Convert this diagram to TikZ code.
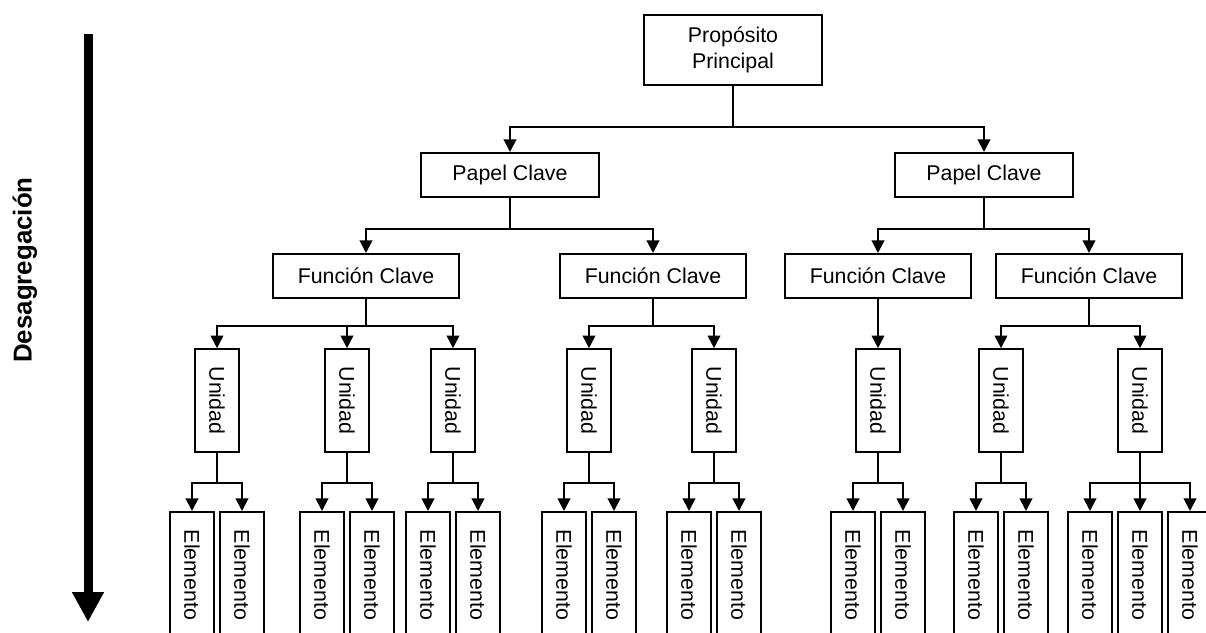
\documentclass[tikz,border=0pt]{standalone}
\usepackage{fontspec}
\setmainfont{Liberation Sans}
\usepackage{graphicx}
\usetikzlibrary{arrows.meta, positioning}
\newcommand{\downtext}[1]{\rotatebox{-90}{#1}}

\begin{document}
\begin{tikzpicture}[
  x=0.75pt, y=-0.75pt,
  box/.style={
    draw,
    line width=1.5pt,
    inner sep=0pt,
    align=center,
    font=\fontsize{16}{20}\selectfont
  },
  role/.style={box, minimum width=133.5pt, minimum height=33pt},
  func/.style={box, minimum width=140pt, minimum height=33pt},
  unit/.style={box, minimum width=33pt, minimum height=77pt},
  elem/.style={box, minimum width=33pt, minimum height=94.5pt},
  arrow/.style={-{Triangle[length=9.5pt, width=9.5pt]}, line width=1.5pt}
]
\useasboundingbox (0,0) rectangle (1206,632);

% disaggregation arrow
\coordinate (dtop) at (88,34);
\coordinate (dbot) at (88,622);
\draw[line width=6.75pt, -{Triangle[length=22.5pt, width=22.5pt]}] (dtop) -- (dbot);
\node[rotate=90, font=\bfseries\fontsize{19.4}{23}\selectfont] (dlabel) at (25,270) {Desagregación};

% upper levels
\node[box, minimum width=133.5pt, minimum height=52.5pt] (prop) at (733,50) {Propósito\\Principal};
\node[role] (pcL) at (510,175) {Papel Clave};
\node[role] (pcR) at (984,175) {Papel Clave};
\node[func] (fc1) at (366,276) {Función Clave};
\node[func] (fc2) at (653,276) {Función Clave};
\node[func] (fc3) at (878,276) {Función Clave};
\node[func] (fc4) at (1089,276) {Función Clave};

% units
\node[unit] (u1) at (217,400.5) {\downtext{Unidad}};
\node[unit] (u2) at (347,400.5) {\downtext{Unidad}};
\node[unit] (u3) at (453,400.5) {\downtext{Unidad}};
\node[unit] (u4) at (589,400.5) {\downtext{Unidad}};
\node[unit] (u5) at (714,400.5) {\downtext{Unidad}};
\node[unit] (u6) at (878,400.5) {\downtext{Unidad}};
\node[unit] (u7) at (1001,400.5) {\downtext{Unidad}};
\node[unit] (u8) at (1140,400.5) {\downtext{Unidad}};

% elements
\node[elem] (e1a) at (192,575) {\downtext{Elemento}};
\node[elem, right=3pt of e1a] (e1b) {\downtext{Elemento}};
\node[elem] (e2a) at (322,575) {\downtext{Elemento}};
\node[elem, right=3pt of e2a] (e2b) {\downtext{Elemento}};
\node[elem] (e3a) at (428,575) {\downtext{Elemento}};
\node[elem, right=3pt of e3a] (e3b) {\downtext{Elemento}};
\node[elem] (e4a) at (564,575) {\downtext{Elemento}};
\node[elem, right=3pt of e4a] (e4b) {\downtext{Elemento}};
\node[elem] (e5a) at (689,575) {\downtext{Elemento}};
\node[elem, right=3pt of e5a] (e5b) {\downtext{Elemento}};
\node[elem] (e6a) at (853,575) {\downtext{Elemento}};
\node[elem, right=3pt of e6a] (e6b) {\downtext{Elemento}};
\node[elem] (e7a) at (976,575) {\downtext{Elemento}};
\node[elem, right=3pt of e7a] (e7b) {\downtext{Elemento}};
\node[elem] (e8a) at (1090,575) {\downtext{Elemento}};
\node[elem, right=3pt of e8a] (e8b) {\downtext{Elemento}};
\node[elem, right=3pt of e8b] (e8c) {\downtext{Elemento}};

% connectors
\draw[arrow] (prop.south) -- ++(0,41) -| (pcL.north);
\draw[arrow] (prop.south) -- ++(0,41) -| (pcR.north);
\draw[arrow] (pcL.south) -- ++(0,31) -| (fc1.north);
\draw[arrow] (pcL.south) -- ++(0,31) -| (fc2.north);
\draw[arrow] (pcR.south) -- ++(0,31) -| (fc3.north);
\draw[arrow] (pcR.south) -- ++(0,31) -| (fc4.north);
\draw[arrow] (fc1.south) -- ++(0,27) -| (u1.north);
\draw[arrow] (fc1.south) -- ++(0,27) -| (u2.north);
\draw[arrow] (fc1.south) -- ++(0,27) -| (u3.north);
\draw[arrow] (fc2.south) -- ++(0,27) -| (u4.north);
\draw[arrow] (fc2.south) -- ++(0,27) -| (u5.north);
\draw[arrow] (fc3.south) -- (u6.north);
\draw[arrow] (fc4.south) -- ++(0,27) -| (u7.north);
\draw[arrow] (fc4.south) -- ++(0,27) -| (u8.north);
\draw[arrow] (u1.south) -- ++(0,30) -| (e1a.north);
\draw[arrow] (u1.south) -- ++(0,30) -| (e1b.north);
\draw[arrow] (u2.south) -- ++(0,30) -| (e2a.north);
\draw[arrow] (u2.south) -- ++(0,30) -| (e2b.north);
\draw[arrow] (u3.south) -- ++(0,30) -| (e3a.north);
\draw[arrow] (u3.south) -- ++(0,30) -| (e3b.north);
\draw[arrow] (u4.south) -- ++(0,30) -| (e4a.north);
\draw[arrow] (u4.south) -- ++(0,30) -| (e4b.north);
\draw[arrow] (u5.south) -- ++(0,30) -| (e5a.north);
\draw[arrow] (u5.south) -- ++(0,30) -| (e5b.north);
\draw[arrow] (u6.south) -- ++(0,30) -| (e6a.north);
\draw[arrow] (u6.south) -- ++(0,30) -| (e6b.north);
\draw[arrow] (u7.south) -- ++(0,30) -| (e7a.north);
\draw[arrow] (u7.south) -- ++(0,30) -| (e7b.north);
\draw[arrow] (u8.south) -- ++(0,30) -| (e8a.north);
\draw[arrow] (u8.south) -- ++(0,30) -| (e8b.north);
\draw[arrow] (u8.south) -- ++(0,30) -| (e8c.north);
\end{tikzpicture}
\end{document}
